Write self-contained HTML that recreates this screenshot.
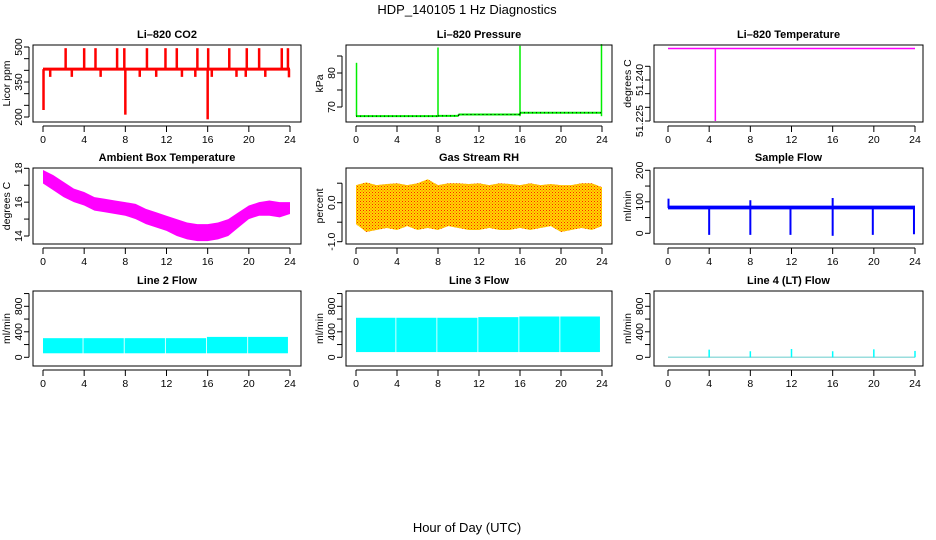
<!DOCTYPE html>
<html><head><meta charset="utf-8"><style>
html,body{margin:0;padding:0;background:#fff;}
svg{display:block;font-family:"Liberation Sans",sans-serif;}
</style></head><body>
<svg id="fig" width="936" height="540" viewBox="0 0 936 540" xmlns="http://www.w3.org/2000/svg">
<defs>
<pattern id="rhpat" width="3" height="3" patternUnits="userSpaceOnUse">
<rect width="3" height="3" fill="#ffd800"/><rect width="1" height="1" fill="#ff2000"/><rect x="1.5" y="1.5" width="1" height="1" fill="#ff5000"/>
</pattern>
</defs>
<text x="467" y="14" font-size="13" text-anchor="middle">HDP_140105  1 Hz Diagnostics</text>
<text x="467" y="532" font-size="13" text-anchor="middle">Hour of Day (UTC)</text>
</svg>
<script>
// ---- data ----
var xTicks = [0,4,8,12,16,20,24];
// CO2
var co2Base = 405;
var co2SpikeHours = [0.05,2.2,4.0,5.1,7.2,7.9,8.0,10.1,11.9,13.0,15.0,16.0,16.05,18.1,19.8,21.0,23.2,23.8,0.7,2.8,5.6,9.4,11.0,13.5,14.8,16.4,18.8,19.7,21.6,23.9];
var co2SpikeValues = [230,495,495,495,495,495,210,495,495,495,495,190,495,495,495,495,495,495,372,372,372,372,372,372,372,372,372,372,372,370];
var co2Ticks = [200,250,300,350,400,450,500];
var co2Labels = ["200","","","350","","","500"];
// Pressure
var presHours = [0,8,8,10,10,16,16,24];
var presValues = [67.3,67.3,67.4,67.4,67.8,67.8,68.3,68.3];
var presSpikeHours = [0.05,8,16,23.95];
var presSpikeValues = [83,87.5,88,88.5];
var presTicks = [70,75,80,85];
var presLabels = ["70","","80",""];
// Li-820 temperature
var tempLevel = 51.2515;
var tempSpikeHours = [4.6];
var tempSpikeValues = [51.225];
var tempTicks = [51.225,51.23,51.235,51.24,51.245];
var tempLabels = ["51.225","","","51.240",""];
// Ambient box temperature
var ambHours = [0,1,2,3,4,5,6,7,8,9,10,11,12,13,14,15,16,17,18,19,20,21,22,23,24];
var ambLow = [17.1,16.7,16.3,16.0,15.8,15.5,15.4,15.3,15.2,15.0,14.7,14.5,14.3,14.0,13.8,13.7,13.7,13.8,14.0,14.5,15.0,15.2,15.2,15.1,15.3];
var ambHigh = [17.9,17.6,17.2,16.8,16.6,16.3,16.2,16.1,16.0,15.9,15.6,15.4,15.2,15.0,14.8,14.7,14.7,14.8,15.0,15.4,15.8,16.0,16.1,16.0,16.0];
var ambTicks = [14,15,16,17,18];
var ambLabels = ["14","","16","","18"];
// Gas stream RH
var rhHours = [0,1,2,3,4,5,6,7,8,9,10,11,12,13,14,15,16,17,18,19,20,21,22,23,24];
var rhLow = [-0.55,-0.75,-0.7,-0.65,-0.7,-0.6,-0.7,-0.65,-0.7,-0.6,-0.65,-0.7,-0.7,-0.65,-0.7,-0.7,-0.65,-0.7,-0.65,-0.6,-0.75,-0.7,-0.65,-0.7,-0.6];
var rhHigh = [0.45,0.52,0.45,0.48,0.5,0.45,0.5,0.6,0.45,0.5,0.5,0.48,0.5,0.45,0.5,0.48,0.45,0.5,0.45,0.48,0.45,0.45,0.5,0.5,0.4];
var rhTicks = [-1,-0.5,0,0.5];
var rhLabels = ["-1.0","","0.0",""];
// Sample flow
var sfLow = 76, sfHigh = 88;
var sfSpikeHours = [0.05,4.0,8.0,11.9,16.0,19.9,23.9,8.0,16.0];
var sfSpikeValues = [110,-5,-5,-5,-8,-5,-3,105,112];
var sfTicks = [0,50,100,150,200];
var sfLabels = ["0","","100","","200"];
// Line 2 / 3 / 4 flows
var flowTicks = [0,200,400,600,800,1000];
var flowLabels = ["0","","400","","800",""];
var gapHours = [3.85,7.85,11.85,15.85,19.85];
var l2Low = 63, l2High = [300,300,300,300,320,320,320], l2End = 23.8;
var l3Low = 82, l3High = [620,620,620,630,640,640,640], l3End = 23.8;
var l4Base = 0;
var l4SpikeHours = [4,8,12,16,20,24];
var l4SpikeValues = [120,95,130,95,125,100];

// ---- layout ----
var svg = document.getElementById('fig');
var NS = 'http://www.w3.org/2000/svg';
var cols = [{b0:33,b1:301,x0:43,x24:290},{b0:346,b1:612,x0:356,x24:602},{b0:654,b1:923,x0:668,x24:915}];
var rows = [{t:45,b:122},{t:168,b:244},{t:291,b:366}];
function mk(tag, attrs, parent){var e=document.createElementNS(NS,tag);for(var k in attrs)e.setAttribute(k,attrs[k]);(parent||svg).appendChild(e);return e;}

function panel(name, title, ytitle, r, c, yA, pA, yB, pB, ticks, labels){
  var C=cols[c], R=rows[r];
  var g = mk('g',{});
  
  
  var P = {g:g, x:function(h){return C.x0+(C.x24-C.x0)*h/24;}, y:function(v){return pA+(pB-pA)*(v-yA)/(yB-yA);}, R:R, C:C};
  var t = mk('text',{x:(C.b0+C.b1)/2,y:R.t-7,'font-size':11,'font-weight':'bold','text-anchor':'middle'},g);
  t.textContent = title;
  
  
  var plot = mk('g',{},g);
  
  
  P.plot = plot;
  var box = mk('rect',{x:C.b0,y:R.t,width:C.b1-C.b0,height:R.b-R.t,fill:'none',stroke:'#000','stroke-width':1},g);
  
  
  var xa = mk('g',{},g);
  
  
  var ay = R.b+4;
  mk('line',{x1:P.x(xTicks[0]),x2:P.x(xTicks[xTicks.length-1]),y1:ay,y2:ay,stroke:'#000'},xa);
  xTicks.forEach(function(h){
    mk('line',{x1:P.x(h),x2:P.x(h),y1:ay,y2:ay+6,stroke:'#000'},xa);
    var l=mk('text',{x:P.x(h),y:ay+17,'font-size':10.5,'text-anchor':'middle'},xa); l.textContent=h;
  });
  var ya = mk('g',{},g);
  
  
  var ax = C.b0-4;
  mk('line',{x1:ax,x2:ax,y1:P.y(ticks[0]),y2:P.y(ticks[ticks.length-1]),stroke:'#000'},ya);
  ticks.forEach(function(v,i){
    var py=P.y(v);
    mk('line',{x1:ax-5,x2:ax,y1:py,y2:py,stroke:'#000'},ya);
    if(labels[i]){var l=mk('text',{x:0,y:0,'font-size':10.5,'text-anchor':'middle',transform:'translate('+(C.b0-11)+','+py+') rotate(-90)'},ya); l.textContent=labels[i];}
  });
  var yt = mk('text',{x:0,y:0,'font-size':10.5,'text-anchor':'middle',transform:'translate('+(C.b0-23)+','+(R.t+R.b)/2+') rotate(-90)'},g);
  yt.textContent = ytitle;
  
  
  return P;
}
function seg(P,h1,v1,h2,v2,color,w,nm){
  var l=mk('line',{x1:P.x(h1),y1:P.y(v1),x2:P.x(h2),y2:P.y(v2),stroke:color,'stroke-width':w},P.plot);
  
  
  return l;
}
function band(P,hours,low,high,fill,nm){
  var pts=[];
  for(var i=0;i<hours.length;i++)pts.push(P.x(hours[i])+','+P.y(high[i]));
  for(var j=hours.length-1;j>=0;j--)pts.push(P.x(hours[j])+','+P.y(low[j]));
  var p=mk('polygon',{points:pts.join(' '),fill:fill},P.plot);
  
  
}

var p1 = panel('co2-panel','Li\u2013820 CO2','Licor ppm',0,0,200,117,500,47,co2Ticks,co2Labels);
co2SpikeHours.forEach(function(h,i){ seg(p1,h,co2Base,h,co2SpikeValues[i],'#ff0000',2.5,'co2-spike'); });
seg(p1,0,co2Base,24,co2Base,'#ff0000',3,'co2-line');

var p2 = panel('pressure-panel','Li\u2013820 Pressure','kPa',0,1,70,107,80,73,presTicks,presLabels);
for(var i=0;i<presHours.length-1;i++){ seg(p2,presHours[i],presValues[i],presHours[i+1],presValues[i+1],'#00ee00',2,'pressure-line'); }
presSpikeHours.forEach(function(h,i){ seg(p2,h,presValues[0],h,presSpikeValues[i],'#00ee00',1.5,'pressure-spike'); });
for(var i=0;i<presHours.length-1;i++){ var d=seg(p2,presHours[i],presValues[i],presHours[i+1],presValues[i+1],'#000',1,'pressure-dots'); d.setAttribute('stroke-dasharray','1,3'); }

var p3 = panel('li820-temperature-panel','Li\u2013820 Temperature','degrees C',0,2,51.225,121,51.245,66.3,tempTicks,tempLabels);
seg(p3,0,tempLevel,24,tempLevel,'#ff00ff',1.5,'temperature-line');
tempSpikeHours.forEach(function(h,i){ seg(p3,h,tempLevel,h,tempSpikeValues[i],'#ff00ff',1.5,'temperature-spike'); });

var p4 = panel('ambient-temperature-panel','Ambient Box Temperature','degrees C',1,0,14,236,18,168.3,ambTicks,ambLabels);
band(p4,ambHours,ambLow,ambHigh,'#ff00ff','ambient-temperature-band');

var p5 = panel('gas-stream-rh-panel','Gas Stream RH','percent',1,1,-1,241.7,0,202.7,rhTicks,rhLabels);
band(p5,rhHours,rhLow,rhHigh,'url(#rhpat)','rh-band');

var p6 = panel('sample-flow-panel','Sample Flow','ml/min',1,2,0,233.3,200,170.3,sfTicks,sfLabels);
band(p6,[0,24],[sfLow,sfLow],[sfHigh,sfHigh],'#0000ff','sample-flow-band');
sfSpikeHours.forEach(function(h,i){ seg(p6,h,80,h,sfSpikeValues[i],'#0000ff',2,'sample-flow-spike'); });

var p7 = panel('line2-flow-panel','Line 2 Flow','ml/min',2,0,0,357.3,800,306.3,flowTicks,flowLabels);
var p8 = panel('line3-flow-panel','Line 3 Flow','ml/min',2,1,0,357.3,800,306.3,flowTicks,flowLabels);
function flowBlocks(P,low,highs,end,nm){
  var edges=[0].concat(gapHours).concat([end]);
  for(var i=0;i<edges.length-1;i++){
    var a=edges[i]+(i?0.08:0), b=edges[i+1];
    var r=mk('rect',{x:P.x(a),y:P.y(highs[i]),width:P.x(b)-P.x(a),height:P.y(low)-P.y(highs[i]),fill:'#00ffff'},P.plot);
    
    
  }
}
flowBlocks(p7,l2Low,l2High,l2End,'line2-flow-block');
flowBlocks(p8,l3Low,l3High,l3End,'line3-flow-block');

var p9 = panel('line4-flow-panel','Line 4 (LT) Flow','ml/min',2,2,0,357.3,800,306.3,flowTicks,flowLabels);
seg(p9,0,l4Base,24,l4Base,'#99dddd',1.5,'line4-flow-line');
l4SpikeHours.forEach(function(h,i){ seg(p9,h,l4Base,h,l4SpikeValues[i],'#00ffff',1.5,'line4-flow-spike'); });
</script>
</body></html>
